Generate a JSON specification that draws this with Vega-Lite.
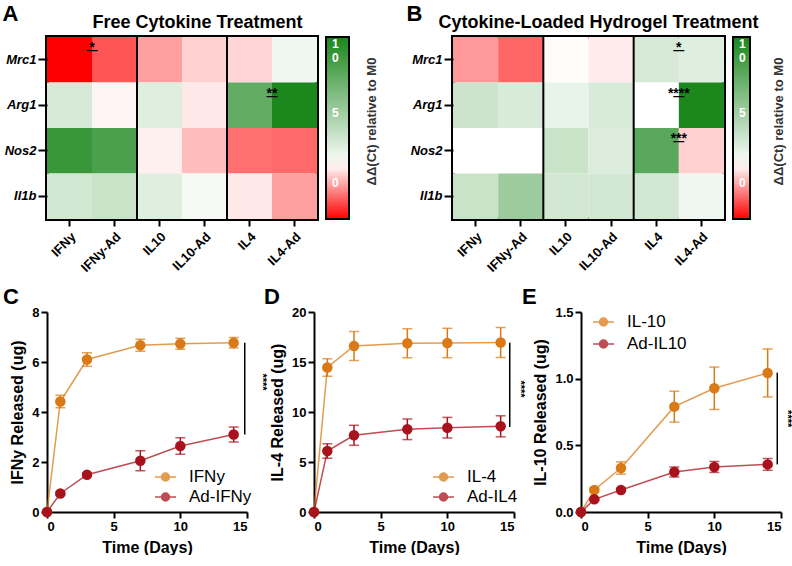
{
  "$schema": "https://vega.github.io/schema/vega-lite/v6.json",
  "padding": {"left": 0, "top": 0, "right": 0, "bottom": 0},
  "background": "white",
  "config": {
    "font": "Liberation Sans",
    "view": {"stroke": null},
    "axis": {"grid": false, "domainColor": "black", "domainWidth": 2, "tickColor": "black", "tickWidth": 2, "tickSize": 6, "labelFontSize": 13, "labelFontWeight": "bold", "labelColor": "black", "titleFontSize": 16, "titleFontWeight": "bold", "titleColor": "black", "labelPadding": 2, "titlePadding": 6},
    "legend": {"labelFont": "Liberation Sans", "padding": 0}
  },
  "resolve": {"scale": {"color": "independent"}, "legend": {"color": "independent"}},
  "datasets": {
    "heatA": [
      {"treatment": "IFNy", "gene": "Mrc1", "ddct": -2.6}, {"treatment": "IFNy-Ad", "gene": "Mrc1", "ddct": -1.3}, {"treatment": "IL10", "gene": "Mrc1", "ddct": -0.15}, {"treatment": "IL10-Ad", "gene": "Mrc1", "ddct": 0.6}, {"treatment": "IL4", "gene": "Mrc1", "ddct": 0.66}, {"treatment": "IL4-Ad", "gene": "Mrc1", "ddct": 1.88},
      {"treatment": "IFNy", "gene": "Arg1", "ddct": 2.95}, {"treatment": "IFNy-Ad", "gene": "Arg1", "ddct": 1.14}, {"treatment": "IL10", "gene": "Arg1", "ddct": 2.6}, {"treatment": "IL10-Ad", "gene": "Arg1", "ddct": 0.95}, {"treatment": "IL4", "gene": "Arg1", "ddct": 7.6}, {"treatment": "IL4-Ad", "gene": "Arg1", "ddct": 10.4},
      {"treatment": "IFNy", "gene": "Nos2", "ddct": 9.2}, {"treatment": "IFNy-Ad", "gene": "Nos2", "ddct": 8.5}, {"treatment": "IL10", "gene": "Nos2", "ddct": 1.07}, {"treatment": "IL10-Ad", "gene": "Nos2", "ddct": 0.28}, {"treatment": "IL4", "gene": "Nos2", "ddct": -0.88}, {"treatment": "IL4-Ad", "gene": "Nos2", "ddct": -1.0},
      {"treatment": "IFNy", "gene": "Il1b", "ddct": 3.1}, {"treatment": "IFNy-Ad", "gene": "Il1b", "ddct": 3.45}, {"treatment": "IL10", "gene": "Il1b", "ddct": 2.6}, {"treatment": "IL10-Ad", "gene": "Il1b", "ddct": 1.7}, {"treatment": "IL4", "gene": "Il1b", "ddct": 0.95}, {"treatment": "IL4-Ad", "gene": "Il1b", "ddct": -0.15}
    ],
    "heatB": [
      {"treatment": "IFNy", "gene": "Mrc1", "ddct": -0.26}, {"treatment": "IFNy-Ad", "gene": "Mrc1", "ddct": -1.04}, {"treatment": "IL10", "gene": "Mrc1", "ddct": 1.25}, {"treatment": "IL10-Ad", "gene": "Mrc1", "ddct": 1.0}, {"treatment": "IL4", "gene": "Mrc1", "ddct": 2.95}, {"treatment": "IL4-Ad", "gene": "Mrc1", "ddct": 2.6},
      {"treatment": "IFNy", "gene": "Arg1", "ddct": 3.35}, {"treatment": "IFNy-Ad", "gene": "Arg1", "ddct": 2.85}, {"treatment": "IL10", "gene": "Arg1", "ddct": 2.2}, {"treatment": "IL10-Ad", "gene": "Arg1", "ddct": 2.85}, {"treatment": "IL4", "gene": "Arg1", "ddct": 1.3}, {"treatment": "IL4-Ad", "gene": "Arg1", "ddct": 10.4},
      {"treatment": "IFNy", "gene": "Nos2", "ddct": 1.3}, {"treatment": "IFNy-Ad", "gene": "Nos2", "ddct": 1.3}, {"treatment": "IL10", "gene": "Nos2", "ddct": 3.45}, {"treatment": "IL10-Ad", "gene": "Nos2", "ddct": 2.65}, {"treatment": "IL4", "gene": "Nos2", "ddct": 7.9}, {"treatment": "IL4-Ad", "gene": "Nos2", "ddct": 0.6},
      {"treatment": "IFNy", "gene": "Il1b", "ddct": 3.45}, {"treatment": "IFNy-Ad", "gene": "Il1b", "ddct": 5.25}, {"treatment": "IL10", "gene": "Il1b", "ddct": 3.1}, {"treatment": "IL10-Ad", "gene": "Il1b", "ddct": 3.1}, {"treatment": "IL4", "gene": "Il1b", "ddct": 3.1}, {"treatment": "IL4-Ad", "gene": "Il1b", "ddct": 1.9}
    ],
    "seps": [{"treatment": "IL10"}, {"treatment": "IL4"}],
    "starsA": [{"treatment": "IFNy-Ad", "gene": "Mrc1", "label": "*"}, {"treatment": "IL4-Ad", "gene": "Arg1", "label": "**"}],
    "starsB": [{"treatment": "IL4-Ad", "gene": "Mrc1", "label": "*"}, {"treatment": "IL4-Ad", "gene": "Arg1", "label": "****"}, {"treatment": "IL4-Ad", "gene": "Nos2", "label": "***"}]
  },
  "vconcat": [
    {
      "resolve": {"scale": {"color": "independent"}, "legend": {"color": "independent"}},
      "hconcat": [
        {
          "width": 270, "height": 182,
          "view": {"stroke": "black", "strokeWidth": 4},
          "resolve": {"axis": {"x": "independent", "y": "independent"}},
          "layer": [
            {
              "data": {"name": "heatA"},
              "mark": {"type": "rect"},
              "encoding": {
                "x": {"field": "treatment", "type": "nominal", "sort": ["IFNy", "IFNy-Ad", "IL10", "IL10-Ad", "IL4", "IL4-Ad"], "axis": {"orient": "bottom", "title": null, "labelAngle": -45, "labelAlign": "right", "labelBaseline": "top", "labelPadding": 4, "tickSize": 7, "domain": false}},
                "y": {"field": "gene", "type": "nominal", "sort": ["Mrc1", "Arg1", "Nos2", "Il1b"], "axis": {"orient": "left", "title": "A", "titleAngle": 0, "titleX": -45, "titleY": -34, "titleAlign": "left", "titleBaseline": "top", "titleFontSize": 22, "labelFontStyle": "italic", "tickSize": 9, "domain": false}},
                "color": {"field": "ddct", "type": "quantitative", "scale": {"domain": [-2.6, 1.3, 10.5], "range": ["#ff0000", "#ffffff", "#18861a"], "interpolate": "rgb"},
                  "legend": {"orient": "none", "legendX": 279, "legendY": 0, "direction": "vertical", "title": null, "gradientLength": 182, "gradientThickness": 23, "gradientStrokeColor": "black", "gradientStrokeWidth": 2, "values": [0, 5, 10], "labelColor": "white", "labelFontSize": 12, "labelFontWeight": "bold", "labelOffset": -17, "labelExpr": "datum.value == 10 ? ['1', '0'] : datum.label"}}
              }
            },
            {
              "data": {"name": "seps"},
              "mark": {"type": "rule", "color": "black", "strokeWidth": 2},
              "encoding": {
                "x": {"field": "treatment", "type": "nominal", "sort": ["IFNy", "IFNy-Ad", "IL10", "IL10-Ad", "IL4", "IL4-Ad"], "bandPosition": 0, "axis": {"orient": "top", "title": "Free Cytokine Treatment", "titleX": 150, "titleY": -10, "titleBaseline": "alphabetic", "titleFontSize": 18, "labels": false, "ticks": false, "domain": false}}
              }
            },
            {
              "data": {"name": "starsA"},
              "mark": {"type": "text", "dx": -22.5, "dy": -7.5, "baseline": "alphabetic", "fontSize": 14, "fontWeight": "bold", "color": "black"},
              "encoding": {
                "x": {"field": "treatment", "type": "nominal", "sort": ["IFNy", "IFNy-Ad", "IL10", "IL10-Ad", "IL4", "IL4-Ad"], "axis": null},
                "y": {"field": "gene", "type": "nominal", "sort": ["Mrc1", "Arg1", "Nos2", "Il1b"], "axis": {"orient": "right", "title": "ΔΔ(Ct) relative to M0", "titleAngle": 270, "titleX": 54, "titleY": 84, "titleAlign": "center", "titleBaseline": "middle", "titleFontSize": 13, "titleColor": "#333333", "labels": false, "ticks": false, "domain": false}},
                "text": {"field": "label"}
              }
            },
            {
              "data": {"name": "starsA"},
              "mark": {"type": "text", "text": "—", "dx": -22.5, "dy": -5.5, "baseline": "alphabetic", "fontSize": 11, "fontWeight": "bold", "color": "black"},
              "encoding": {
                "x": {"field": "treatment", "type": "nominal", "sort": ["IFNy", "IFNy-Ad", "IL10", "IL10-Ad", "IL4", "IL4-Ad"], "axis": null},
                "y": {"field": "gene", "type": "nominal", "sort": ["Mrc1", "Arg1", "Nos2", "Il1b"], "axis": null}
              }
            }
          ]
        },
        {
          "width": 271, "height": 182,
          "view": {"stroke": "black", "strokeWidth": 4},
          "resolve": {"axis": {"x": "independent", "y": "independent"}},
          "layer": [
            {
              "data": {"name": "heatB"},
              "mark": {"type": "rect"},
              "encoding": {
                "x": {"field": "treatment", "type": "nominal", "sort": ["IFNy", "IFNy-Ad", "IL10", "IL10-Ad", "IL4", "IL4-Ad"], "axis": {"orient": "bottom", "title": null, "labelAngle": -45, "labelAlign": "right", "labelBaseline": "top", "labelPadding": 4, "tickSize": 7, "domain": false}},
                "y": {"field": "gene", "type": "nominal", "sort": ["Mrc1", "Arg1", "Nos2", "Il1b"], "axis": {"orient": "left", "title": "B", "titleAngle": 0, "titleX": -47, "titleY": -34, "titleAlign": "left", "titleBaseline": "top", "titleFontSize": 22, "labelFontStyle": "italic", "tickSize": 9, "domain": false}},
                "color": {"field": "ddct", "type": "quantitative", "scale": {"domain": [-2.6, 1.3, 10.5], "range": ["#ff0000", "#ffffff", "#18861a"], "interpolate": "rgb"},
                  "legend": {"orient": "none", "legendX": 280, "legendY": 0, "direction": "vertical", "title": null, "gradientLength": 182, "gradientThickness": 17, "gradientStrokeColor": "black", "gradientStrokeWidth": 2, "values": [0, 5, 10], "labelColor": "white", "labelFontSize": 12, "labelFontWeight": "bold", "labelOffset": -11, "labelExpr": "datum.value == 10 ? ['1', '0'] : datum.label"}}
              }
            },
            {
              "data": {"name": "seps"},
              "mark": {"type": "rule", "color": "black", "strokeWidth": 2},
              "encoding": {
                "x": {"field": "treatment", "type": "nominal", "sort": ["IFNy", "IFNy-Ad", "IL10", "IL10-Ad", "IL4", "IL4-Ad"], "bandPosition": 0, "axis": {"orient": "top", "title": "Cytokine-Loaded Hydrogel Treatment", "titleX": 145, "titleY": -10, "titleBaseline": "alphabetic", "titleFontSize": 18, "labels": false, "ticks": false, "domain": false}}
              }
            },
            {
              "data": {"name": "starsB"},
              "mark": {"type": "text", "dx": -22.6, "dy": -7.5, "baseline": "alphabetic", "fontSize": 14, "fontWeight": "bold", "color": "black"},
              "encoding": {
                "x": {"field": "treatment", "type": "nominal", "sort": ["IFNy", "IFNy-Ad", "IL10", "IL10-Ad", "IL4", "IL4-Ad"], "axis": null},
                "y": {"field": "gene", "type": "nominal", "sort": ["Mrc1", "Arg1", "Nos2", "Il1b"], "axis": {"orient": "right", "title": "ΔΔ(Ct) relative to M0", "titleAngle": 270, "titleX": 54, "titleY": 84, "titleAlign": "center", "titleBaseline": "middle", "titleFontSize": 13, "titleColor": "#333333", "labels": false, "ticks": false, "domain": false}},
                "text": {"field": "label"}
              }
            },
            {
              "data": {"name": "starsB"},
              "mark": {"type": "text", "text": "—", "dx": -22.6, "dy": -5.5, "baseline": "alphabetic", "fontSize": 11, "fontWeight": "bold", "color": "black"},
              "encoding": {
                "x": {"field": "treatment", "type": "nominal", "sort": ["IFNy", "IFNy-Ad", "IL10", "IL10-Ad", "IL4", "IL4-Ad"], "axis": null},
                "y": {"field": "gene", "type": "nominal", "sort": ["Mrc1", "Arg1", "Nos2", "Il1b"], "axis": null}
              }
            }
          ]
        }
      ],
      "spacing": 24
    },
    {
      "resolve": {"scale": {"color": "independent"}, "legend": {"color": "independent"}},
      "hconcat": [
        {
          "width": 200, "height": 200,
          "title": {"text": "C", "anchor": "start", "frame": "group", "dx": -44, "fontSize": 22, "fontWeight": "bold", "offset": -3},
          "data": {"values": [
            {"series": "IFNy", "day": 0, "value": 0, "err": 0}, {"series": "IFNy", "day": 1, "value": 4.42, "err": 0.25}, {"series": "IFNy", "day": 3, "value": 6.1, "err": 0.27}, {"series": "IFNy", "day": 7, "value": 6.67, "err": 0.24}, {"series": "IFNy", "day": 10, "value": 6.73, "err": 0.22}, {"series": "IFNy", "day": 14, "value": 6.77, "err": 0.21},
            {"series": "Ad-IFNy", "day": 0, "value": 0, "err": 0}, {"series": "Ad-IFNy", "day": 1, "value": 0.74, "err": 0.06}, {"series": "Ad-IFNy", "day": 3, "value": 1.49, "err": 0.06}, {"series": "Ad-IFNy", "day": 7, "value": 2.05, "err": 0.4}, {"series": "Ad-IFNy", "day": 10, "value": 2.64, "err": 0.33}, {"series": "Ad-IFNy", "day": 14, "value": 3.1, "err": 0.3}
          ]},
          "encoding": {
            "x": {"field": "day", "type": "quantitative", "scale": {"domain": [0, 15], "nice": false}, "axis": {"values": [0, 5, 10, 15], "title": "Time (Days)"}},
            "y": {"field": "value", "type": "quantitative", "scale": {"domain": [0, 8], "nice": false}, "axis": {"values": [0, 2, 4, 6, 8], "title": "IFNy Released (ug)"}},
            "color": {"field": "series", "type": "nominal", "scale": {"domain": ["IFNy", "Ad-IFNy"], "range": ["#d97a16", "#a8121c"]},
              "legend": {"orient": "none", "legendX": 107, "legendY": 153.5, "title": null, "symbolType": "M-1,0L1,0M-0.38,0A0.38,0.38,0,1,1,0.38,0A0.38,0.38,0,1,1,-0.38,0", "symbolSize": 441, "symbolStrokeWidth": 1.5, "labelFontSize": 17, "labelFontWeight": "normal", "labelColor": "black", "labelOffset": 12, "rowPadding": 0}}
          },
          "layer": [
            {"mark": {"type": "line", "strokeWidth": 1.5, "opacity": 0.75}},
            {"mark": {"type": "errorbar", "ticks": true, "size": 10, "thickness": 1.5}, "encoding": {"yError": {"field": "err"}}},
            {"mark": {"type": "point", "filled": true, "size": 110, "opacity": 1}},
            {"data": {"values": [{"day": 14.83, "value": 6.77, "value2": 3.1}]}, "mark": {"type": "rule", "strokeWidth": 1.5}, "encoding": {"y2": {"field": "value2"}, "color": {"value": "black"}}},
            {"data": {"values": [{"day": 16.1, "value": 5.2, "label": "****"}]}, "mark": {"type": "text", "angle": 90, "fontSize": 11, "fontWeight": "bold"}, "encoding": {"text": {"field": "label"}, "color": {"value": "black"}}}
          ]
        },
        {
          "width": 200, "height": 200,
          "title": {"text": "D", "anchor": "start", "frame": "group", "dx": -50, "fontSize": 22, "fontWeight": "bold", "offset": -3},
          "data": {"values": [
            {"series": "IL-4", "day": 0, "value": 0, "err": 0}, {"series": "IL-4", "day": 1, "value": 14.45, "err": 0.87}, {"series": "IL-4", "day": 3, "value": 16.6, "err": 1.45}, {"series": "IL-4", "day": 7, "value": 16.87, "err": 1.45}, {"series": "IL-4", "day": 10, "value": 16.9, "err": 1.47}, {"series": "IL-4", "day": 14, "value": 16.95, "err": 1.5},
            {"series": "Ad-IL4", "day": 0, "value": 0, "err": 0}, {"series": "Ad-IL4", "day": 1, "value": 6.1, "err": 0.73}, {"series": "Ad-IL4", "day": 3, "value": 7.67, "err": 1.0}, {"series": "Ad-IL4", "day": 7, "value": 8.27, "err": 1.03}, {"series": "Ad-IL4", "day": 10, "value": 8.43, "err": 1.03}, {"series": "Ad-IL4", "day": 14, "value": 8.57, "err": 1.05}
          ]},
          "encoding": {
            "x": {"field": "day", "type": "quantitative", "scale": {"domain": [0, 15], "nice": false}, "axis": {"values": [0, 5, 10, 15], "title": "Time (Days)"}},
            "y": {"field": "value", "type": "quantitative", "scale": {"domain": [0, 20], "nice": false}, "axis": {"values": [0, 5, 10, 15, 20], "title": "IL-4 Released (ug)"}},
            "color": {"field": "series", "type": "nominal", "scale": {"domain": ["IL-4", "Ad-IL4"], "range": ["#d97a16", "#a8121c"]},
              "legend": {"orient": "none", "legendX": 118, "legendY": 153.5, "title": null, "symbolType": "M-1,0L1,0M-0.38,0A0.38,0.38,0,1,1,0.38,0A0.38,0.38,0,1,1,-0.38,0", "symbolSize": 441, "symbolStrokeWidth": 1.5, "labelFontSize": 17, "labelFontWeight": "normal", "labelColor": "black", "labelOffset": 12, "rowPadding": 0}}
          },
          "layer": [
            {"mark": {"type": "line", "strokeWidth": 1.5, "opacity": 0.75}},
            {"mark": {"type": "errorbar", "ticks": true, "size": 10, "thickness": 1.5}, "encoding": {"yError": {"field": "err"}}},
            {"mark": {"type": "point", "filled": true, "size": 110, "opacity": 1}},
            {"data": {"values": [{"day": 14.68, "value": 16.93, "value2": 8.5}]}, "mark": {"type": "rule", "strokeWidth": 1.5}, "encoding": {"y2": {"field": "value2"}, "color": {"value": "black"}}},
            {"data": {"values": [{"day": 15.43, "value": 12.3, "label": "****"}]}, "mark": {"type": "text", "angle": 90, "fontSize": 11, "fontWeight": "bold"}, "encoding": {"text": {"field": "label"}, "color": {"value": "black"}}}
          ]
        },
        {
          "width": 200, "height": 200,
          "title": {"text": "E", "anchor": "start", "frame": "group", "dx": -59, "fontSize": 22, "fontWeight": "bold", "offset": -3},
          "data": {"values": [
            {"series": "IL-10", "day": 0, "value": 0, "err": 0}, {"series": "IL-10", "day": 1, "value": 0.165, "err": 0.015}, {"series": "IL-10", "day": 3, "value": 0.33, "err": 0.046}, {"series": "IL-10", "day": 7, "value": 0.79, "err": 0.116}, {"series": "IL-10", "day": 10, "value": 0.928, "err": 0.159}, {"series": "IL-10", "day": 14, "value": 1.043, "err": 0.18},
            {"series": "Ad-IL10", "day": 0, "value": 0, "err": 0}, {"series": "Ad-IL10", "day": 1, "value": 0.095, "err": 0.01}, {"series": "Ad-IL10", "day": 3, "value": 0.165, "err": 0.012}, {"series": "Ad-IL10", "day": 7, "value": 0.3, "err": 0.0375}, {"series": "Ad-IL10", "day": 10, "value": 0.338, "err": 0.041}, {"series": "Ad-IL10", "day": 14, "value": 0.357, "err": 0.044}
          ]},
          "encoding": {
            "x": {"field": "day", "type": "quantitative", "scale": {"domain": [0, 15], "nice": false}, "axis": {"values": [0, 5, 10, 15], "title": "Time (Days)"}},
            "y": {"field": "value", "type": "quantitative", "scale": {"domain": [0, 1.5], "nice": false}, "axis": {"values": [0, 0.5, 1.0, 1.5], "format": ".1f", "title": "IL-10 Released (ug)"}},
            "color": {"field": "series", "type": "nominal", "scale": {"domain": ["IL-10", "Ad-IL10"], "range": ["#d97a16", "#a8121c"]},
              "legend": {"orient": "none", "legendX": 11, "legendY": -1.5, "title": null, "symbolType": "M-1,0L1,0M-0.38,0A0.38,0.38,0,1,1,0.38,0A0.38,0.38,0,1,1,-0.38,0", "symbolSize": 441, "symbolStrokeWidth": 1.5, "labelFontSize": 17, "labelFontWeight": "normal", "labelColor": "black", "labelOffset": 12, "rowPadding": 2}}
          },
          "layer": [
            {"mark": {"type": "line", "strokeWidth": 1.5, "opacity": 0.75}},
            {"mark": {"type": "errorbar", "ticks": true, "size": 10, "thickness": 1.5}, "encoding": {"yError": {"field": "err"}}},
            {"mark": {"type": "point", "filled": true, "size": 110, "opacity": 1}},
            {"data": {"values": [{"day": 14.72, "value": 1.045, "value2": 0.357}]}, "mark": {"type": "rule", "strokeWidth": 1.5}, "encoding": {"y2": {"field": "value2"}, "color": {"value": "black"}}},
            {"data": {"values": [{"day": 15.43, "value": 0.7, "label": "****"}]}, "mark": {"type": "text", "angle": 90, "fontSize": 11, "fontWeight": "bold"}, "encoding": {"text": {"field": "label"}, "color": {"value": "black"}}}
          ]
        }
      ],
      "spacing": -4
    }
  ],
  "spacing": 9
}
